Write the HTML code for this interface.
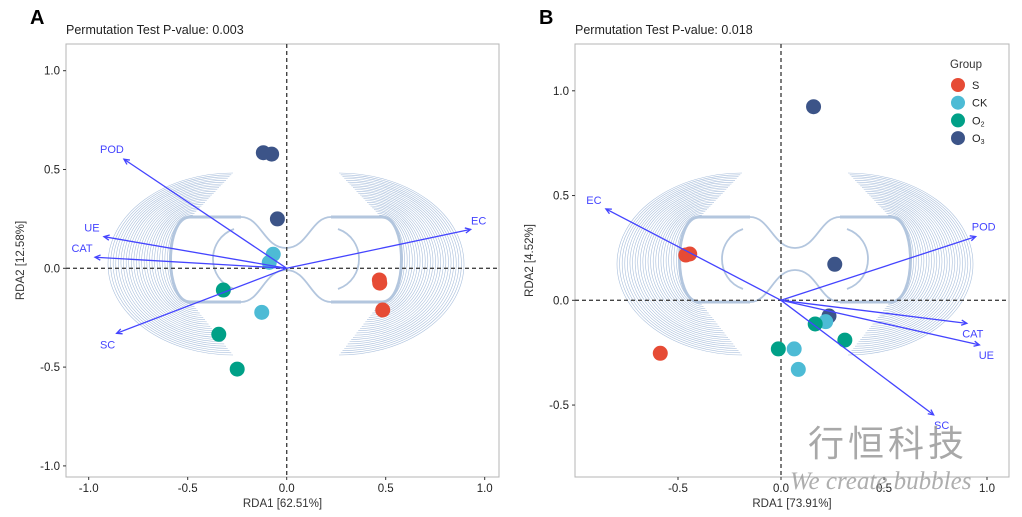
<!DOCTYPE html>
<html><head><meta charset="utf-8">
<style>
body{margin:0;background:#fff;}
svg{display:block;font-family:"Liberation Sans","Noto Sans CJK SC",sans-serif;}
</style></head>
<body>
<svg id="fig" width="1022" height="517" viewBox="0 0 1022 517" xmlns="http://www.w3.org/2000/svg">
<g id="pA"></g>
<g id="pB"></g>
<g>
<text x="950" y="68" font-size="11.5" fill="#333">Group</text>
<g id="leg"></g>
</g>
<text x="808" y="456" font-size="36" fill="#9a9a9a" opacity="0.85" letter-spacing="4" font-family="'Noto Sans CJK SC',sans-serif">行恒科技</text>
<text x="790" y="489" font-size="25" fill="#9a9a9a" opacity="0.8" font-style="italic" font-family="'Liberation Serif',serif">We create bubbles</text>
</svg>
<script>
// Panel A data
const groupsA = ["O3","O3","O3","CK","CK","CK","O2","O2","O2","S","S","S"];
const xA = [-0.118,-0.076,-0.047,-0.068,-0.088,-0.126,-0.32,-0.343,-0.25,0.468,0.47,0.485];
const yA = [0.585,0.578,0.25,0.071,0.03,-0.223,-0.11,-0.334,-0.51,-0.059,-0.075,-0.211];
const envA = ["POD","UE","CAT","SC","EC"];
const envXA = [-0.822,-0.923,-0.968,-0.859,0.929];
const envYA = [0.552,0.16,0.056,-0.329,0.197];
// Panel B data
const groupsB = ["O3","O3","O3","CK","CK","CK","O2","O2","O2","S","S","S"];
const xB = [0.158,0.261,0.233,0.217,0.064,0.084,0.166,0.31,-0.013,-0.462,-0.443,-0.586];
const yB = [0.924,0.172,-0.075,-0.102,-0.232,-0.33,-0.113,-0.19,-0.232,0.216,0.221,-0.253];
const envB = ["EC","POD","CAT","UE","SC"];
const envXB = [-0.85,0.945,0.902,0.963,0.741];
const envYB = [0.436,0.304,-0.11,-0.213,-0.547];
const groupNames = ["S","CK","O2","O3"];
const ticksA = [-1.0,-0.5,0.0,0.5,1.0];
const ticksBx = [-0.5,0.0,0.5,1.0];
const ticksBy = [-0.5,0.0,0.5,1.0];

const colors = {S:"#e64b35",CK:"#4dbbd5",O2:"#00a087",O3:"#3c5488"};
const NS="http://www.w3.org/2000/svg";
function mk(p,tag,attrs){const e=document.createElementNS(NS,tag);for(const k in attrs)e.setAttribute(k,attrs[k]);p.appendChild(e);return e;}

function deco(g,cx,cy){
  const d=mk(g,"g",{fill:"none",stroke:"#a9bfdc","stroke-width":"0.6"});
  
  
  for(const s of [-1,1]){
    for(let i=0;i<=24;i++){
      const t=i/24;
      const xt=cx+s*(-95+42*t);
      const ty=cy-42-44*t;
      const by=cy+43+53*t;
      const lx=cx+s*(-116-62*t);
      const rx=Math.abs(xt-lx), ry=(by-ty)/2;
      const sweep = s<0 ? 1 : 0;
      mk(d,"path",{d:`M${xt},${ty} A${rx},${ry} 0 0 ${sweep} ${xt},${by}`});
    }
  }
  const o=mk(g,"g",{fill:"none",stroke:"#b3c6de","stroke-width":"1.8"});
  
  
  for(const s of [-1,1]){
    const xo=cx+s*(-45), t=cy-42, b=cy+43;
    mk(o,"path",{d:`M${xo},${t} L${cx+s*(-96)},${t} C${cx+s*(-122)},${t} ${cx+s*(-122)},${b} ${cx+s*(-96)},${b} L${xo},${b}`,"stroke-width":"3"});
    mk(o,"path",{d:`M${xo},${t} C${cx+s*(-25)},${t} ${cx+s*(-22)},${cy-11} ${cx},${cy-11}`});
    mk(o,"path",{d:`M${xo},${b} C${cx+s*(-25)},${b} ${cx+s*(-22)},${cy+11} ${cx},${cy+11}`});
    mk(o,"path",{d:`M${cx+s*(-52)},${cy-30} C${cx+s*(-80)},${cy-20} ${cx+s*(-80)},${cy+20} ${cx+s*(-52)},${cy+30}`});
  }
}

function panel(g,opt){
  const {L,R,T,B,x0,ux,y0,uy,xs,ys,grp,envN,envX,envY,labelOff,tx,ty,title,xl,yl,letter}=opt;
  const X=v=>x0+v*ux, Y=v=>y0-v*uy;
  mk(g,"text",{x:L-36,y:24,"font-size":"20","font-weight":"bold",fill:"#000"}).textContent=letter;
  const tt=mk(g,"text",{x:L,y:34,"font-size":"12.5",fill:"#222"});tt.textContent=title;
  
  mk(g,"rect",{x:L,y:T,width:R-L,height:B-T,fill:"#fff",stroke:"#b5b5b5","stroke-width":"1"});
  deco(g,L+220,259);
  mk(g,"line",{x1:L,x2:R,y1:Y(0),y2:Y(0),stroke:"#444","stroke-width":"1.4","stroke-dasharray":"4,3"});
  mk(g,"line",{x1:X(0),x2:X(0),y1:T,y2:B,stroke:"#444","stroke-width":"1.4","stroke-dasharray":"4,3"});
  for(const v of tx){const e=mk(g,"text",{x:X(v),y:B+15,"font-size":"11.5",fill:"#222","text-anchor":"middle"});e.textContent=v.toFixed(1);
    
    mk(g,"line",{x1:X(v),x2:X(v),y1:B,y2:B+3,stroke:"#333"});}
  for(const v of ty){const e=mk(g,"text",{x:L-6,y:Y(v)+4,"font-size":"11.5",fill:"#222","text-anchor":"end"});e.textContent=v.toFixed(1);
    
    mk(g,"line",{x1:L-3,x2:L,y1:Y(v),y2:Y(v),stroke:"#333"});}
  const xt=mk(g,"text",{x:(L+R)/2,y:B+30,"font-size":"11.5",fill:"#333","text-anchor":"middle"});xt.textContent=xl;
  
  const yt=mk(g,"text",{x:0,y:0,"font-size":"11.5",fill:"#333","text-anchor":"middle",transform:`translate(${L-42},${(T+B)/2}) rotate(-90)`});yt.textContent=yl;
  
  for(let i=0;i<xs.length;i++){
    const c=mk(g,"circle",{cx:X(xs[i]),cy:Y(ys[i]),r:7.5,fill:colors[grp[i]]});
    
    
  }
  for(let i=0;i<envN.length;i++){
    const ax=X(envX[i]),ay=Y(envY[i]),ox=X(0),oy=Y(0);
    const ang=Math.atan2(ay-oy,ax-ox);
    const a=mk(g,"line",{x1:ox,y1:oy,x2:ax,y2:ay,stroke:"#4444ff","stroke-width":"1.3"});
    
    const h=6,w=0.45;
    mk(g,"path",{d:`M${ax-h*Math.cos(ang-w)},${ay-h*Math.sin(ang-w)} L${ax},${ay} L${ax-h*Math.cos(ang+w)},${ay-h*Math.sin(ang+w)}`,fill:"none",stroke:"#4444ff","stroke-width":"1.3"});
    const lx=ax+labelOff[i][0], ly=ay+labelOff[i][1];
    const t=mk(g,"text",{x:lx,y:ly,"font-size":"11",fill:"#4444ff","text-anchor":"middle"});t.textContent=envN[i];
    
  }
}

panel(document.getElementById('pA'),{L:66,R:499,T:44,B:477,x0:286.7,ux:198,y0:268.3,uy:197.6,xs:xA,ys:yA,grp:groupsA,
  envN:envA,envX:envXA,envY:envYA,labelOff:[[-12,-6],[-12,-5],[-13,-5],[-9,15],[8,-5]],tx:ticksA,ty:ticksA,
  title:"Permutation Test P-value: 0.003",xl:"RDA1 [62.51%]",yl:"RDA2 [12.58%]",letter:"A"});
panel(document.getElementById('pB'),{L:575,R:1009,T:44,B:477,x0:781,ux:206,y0:300.3,uy:209.5,xs:xB,ys:yB,grp:groupsB,
  envN:envB,envX:envXB,envY:envYB,labelOff:[[-12,-5],[8,-6],[6,14],[7,14],[8,14]],tx:ticksBx,ty:ticksBy,
  title:"Permutation Test P-value: 0.018",xl:"RDA1 [73.91%]",yl:"RDA2 [4.52%]",letter:"B"});

const leg=document.getElementById('leg');
for(let i=0;i<groupNames.length;i++){
  const yy=85+i*17.7;
  const c=mk(leg,"circle",{cx:958,cy:yy,r:7,fill:colors[groupNames[i]]});
  
  
  const t=mk(leg,"text",{x:972,y:yy+4,"font-size":"11",fill:"#222"});
  if(groupNames[i].length===2&&groupNames[i][0]==="O"){t.textContent="O";const s=mk(t,"tspan",{"font-size":"7",dy:"2"});s.textContent=groupNames[i][1];}
  else t.textContent=groupNames[i];
  
  
}
</script>
</body></html>
